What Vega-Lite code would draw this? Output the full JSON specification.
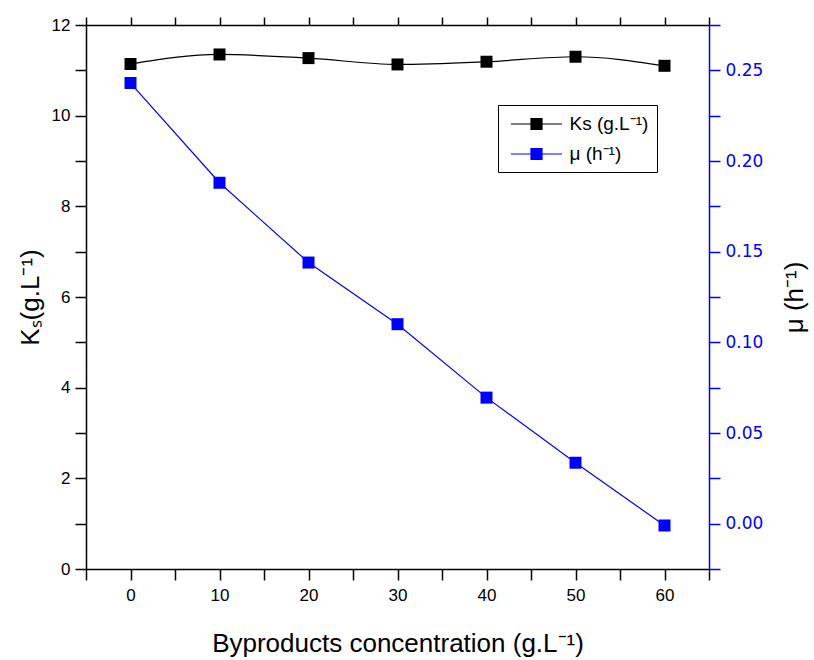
{
  "$schema": "https://vega.github.io/schema/vega-lite/v6.json",
  "width": 623,
  "height": 544,
  "autosize": {"type": "none"},
  "padding": {"left": 86, "top": 25, "right": 105, "bottom": 91},
  "background": "white",
  "config": {
    "view": {"stroke": null},
    "font": "Liberation Sans",
    "axis": {
      "grid": false,
      "domainColor": "black",
      "domainWidth": 1.5,
      "tickColor": "black",
      "tickWidth": 1.5,
      "labelFont": "Liberation Sans",
      "titleFont": "Liberation Sans",
      "labelFontSize": 17,
      "titleFontSize": 26,
      "titleFontWeight": "normal",
      "labelColor": "black",
      "titleColor": "black",
      "labelOverlap": false,
      "labelFlush": false
    }
  },
  "datasets": {
    "ks": [
      {"conc": 0, "ks": 11.14, "series": "Ks (g.L⁻¹)"},
      {"conc": 10, "ks": 11.35, "series": "Ks (g.L⁻¹)"},
      {"conc": 20, "ks": 11.27, "series": "Ks (g.L⁻¹)"},
      {"conc": 30, "ks": 11.13, "series": "Ks (g.L⁻¹)"},
      {"conc": 40, "ks": 11.19, "series": "Ks (g.L⁻¹)"},
      {"conc": 50, "ks": 11.30, "series": "Ks (g.L⁻¹)"},
      {"conc": 60, "ks": 11.10, "series": "Ks (g.L⁻¹)"}
    ],
    "mu": [
      {"conc": 0, "mu": 0.243, "series": "μ (h⁻¹)"},
      {"conc": 10, "mu": 0.188, "series": "μ (h⁻¹)"},
      {"conc": 20, "mu": 0.144, "series": "μ (h⁻¹)"},
      {"conc": 30, "mu": 0.110, "series": "μ (h⁻¹)"},
      {"conc": 40, "mu": 0.0695, "series": "μ (h⁻¹)"},
      {"conc": 50, "mu": 0.0336, "series": "μ (h⁻¹)"},
      {"conc": 60, "mu": -0.001, "series": "μ (h⁻¹)"}
    ]
  },
  "layer": [
    {
      "data": {"name": "ks"},
      "mark": {"type": "line", "interpolate": "monotone", "strokeWidth": 1.2, "point": {"shape": "square", "size": 144, "filled": true, "opacity": 1}},
      "encoding": {
        "x": {
          "field": "conc", "type": "quantitative",
          "scale": {"domain": [-5, 65], "nice": false, "zero": false},
          "axis": {
            "orient": "bottom",
            "values": [-5, 0, 5, 10, 15, 20, 25, 30, 35, 40, 45, 50, 55, 60, 65],
            "title": "Byproducts concentration (g.L⁻¹)",
            "tickSize": 11,
            "labelPadding": 7,
            "titlePadding": 27,
            "labelExpr": "datum.value % 10 === 0 ? datum.label : ''",
            "encode": {"ticks": {"update": {"y2": {"signal": "datum.value % 10 === 0 ? 11 : 6"}}}}
          }
        },
        "y": {
          "field": "ks", "type": "quantitative",
          "scale": {"domain": [0, 12], "nice": false, "zero": false},
          "axis": {
            "orient": "left",
            "values": [0, 1, 2, 3, 4, 5, 6, 7, 8, 9, 10, 11, 12],
            "title": "Kₛ(g.L⁻¹)",
            "tickSize": 11,
            "labelPadding": 5,
            "titlePadding": 8,
            "labelExpr": "datum.value % 2 === 0 ? datum.label : ''",
            "encode": {"ticks": {"update": {"x2": {"signal": "datum.value % 2 === 0 ? -11 : -6"}}}}
          }
        },
        "color": {
          "field": "series", "type": "nominal",
          "scale": {"domain": ["Ks (g.L⁻¹)", "μ (h⁻¹)"], "range": ["black", "blue"]},
          "legend": {
            "orient": "none",
            "legendX": 412,
            "legendY": 80,
            "title": null,
            "symbolType": "M-2.55,0H-0.55M0.55,0H2.55M-0.55,-0.55H0.55V0.55H-0.55Z",
            "symbolSize": 400,
            "symbolOffset": 19.5,
            "symbolStrokeWidth": 1.2,
            "labelFontSize": 19,
            "labelFont": "Liberation Sans",
            "labelColor": "black",
            "labelOffset": 22,
            "strokeColor": "black",
            "fillColor": "white",
            "padding": 8,
            "rowPadding": 9,
            "cornerRadius": 0,
            "encode": {"symbols": {"update": {"fill": {"scale": "color", "field": "value"}, "stroke": {"scale": "color", "field": "value"}, "opacity": {"value": 1}}}}
          }
        }
      }
    },
    {
      "data": {"name": "mu"},
      "mark": {"type": "line", "strokeWidth": 1.2, "point": {"shape": "square", "size": 144, "filled": true, "opacity": 1}},
      "encoding": {
        "x": {
          "field": "conc", "type": "quantitative",
          "scale": {"domain": [-5, 65], "nice": false, "zero": false},
          "axis": {
            "orient": "top",
            "values": [-5, 0, 5, 10, 15, 20, 25, 30, 35, 40, 45, 50, 55, 60, 65],
            "title": null,
            "labels": false,
            "tickSize": 8,
            "encode": {"ticks": {"update": {"y2": {"signal": "datum.value % 10 === 0 ? 8 : 4"}}}}
          }
        },
        "y": {
          "field": "mu", "type": "quantitative",
          "scale": {"domain": [-0.025, 0.275], "nice": false, "zero": false},
          "axis": {
            "orient": "right",
            "values": [-0.025, 0, 0.025, 0.05, 0.075, 0.1, 0.125, 0.15, 0.175, 0.2, 0.225, 0.25, 0.275],
            "title": "μ (h⁻¹)",
            "titleAngle": 270,
            "titlePadding": 45,
            "tickSize": 11,
            "labelPadding": 5,
            "labelFont": "DejaVu Sans",
            "domainColor": "blue",
            "tickColor": "blue",
            "labelColor": "blue",
            "labelExpr": "abs(datum.value * 20 - round(datum.value * 20)) < 0.001 ? format(datum.value, '.2f') : ''",
            "encode": {"ticks": {"update": {"x2": {"signal": "abs(datum.value * 20 - round(datum.value * 20)) < 0.001 ? 11 : 6"}}}}
          }
        },
        "color": {"field": "series", "type": "nominal"}
      }
    }
  ],
  "resolve": {"scale": {"y": "independent"}, "axis": {"x": "independent"}}
}
